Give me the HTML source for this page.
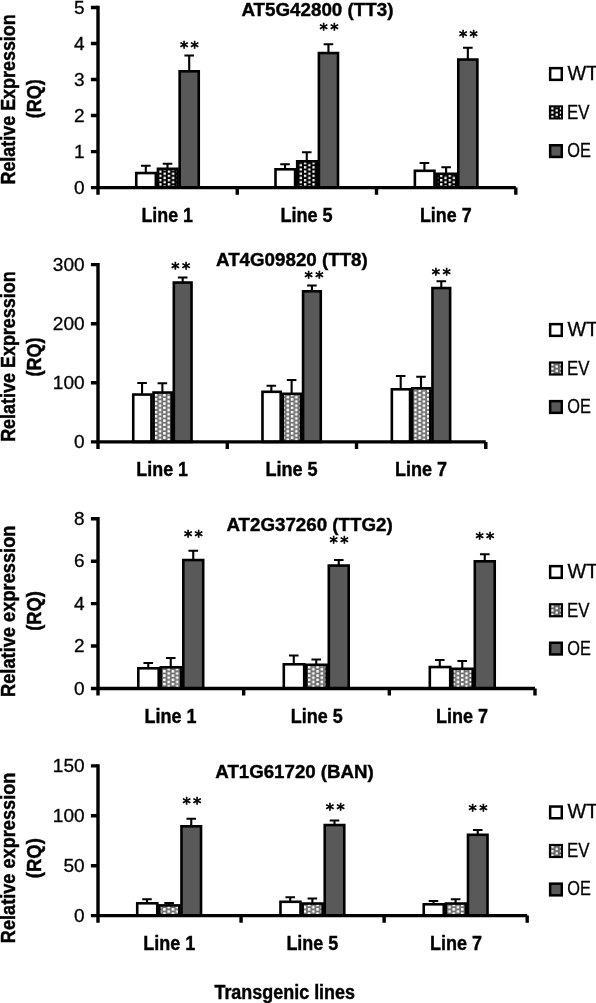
<!DOCTYPE html>
<html lang="en"><head><meta charset="utf-8"><title>Relative expression in transgenic lines</title>
<style>
html,body{margin:0;padding:0;background:#fff}
svg{display:block;font-family:"Liberation Sans",sans-serif}
text{fill:#000}
</style></head><body>
<svg width="596" height="1003" viewBox="0 0 596 1003">
<defs>

<pattern id="pA" x="159.25" y="170.45" width="8.51" height="4.25" patternUnits="userSpaceOnUse"><rect width="8.51" height="4.25" fill="#000"/><rect x="0" y="0" width="2.3" height="2.3" fill="#fff"/><rect x="4.25" y="2.13" width="2.3" height="2.3" fill="#fff"/><rect x="4.25" y="-2.13" width="2.3" height="2.3" fill="#fff"/></pattern>
<pattern id="pB" x="154.65" y="393.85" width="8.51" height="4.25" patternUnits="userSpaceOnUse"><rect width="8.51" height="4.25" fill="#707070"/><rect x="0" y="0" width="2.5" height="2.5" fill="#fff"/><rect x="4.25" y="2.13" width="2.5" height="2.5" fill="#fff"/><rect x="4.25" y="-2.13" width="2.5" height="2.5" fill="#fff"/></pattern>
<pattern id="pALc1" x="551.3" y="107.2" width="8.51" height="4.25" patternUnits="userSpaceOnUse"><rect width="8.51" height="4.25" fill="#000"/><rect x="0" y="0" width="2.3" height="2.3" fill="#fff"/><rect x="4.25" y="2.13" width="2.3" height="2.3" fill="#fff"/><rect x="4.25" y="-2.13" width="2.3" height="2.3" fill="#fff"/></pattern>
<pattern id="pBLc2" x="551.3" y="363.3" width="8.51" height="4.25" patternUnits="userSpaceOnUse"><rect width="8.51" height="4.25" fill="#666"/><rect x="0" y="0" width="2.3" height="2.3" fill="#fff"/><rect x="4.25" y="2.13" width="2.3" height="2.3" fill="#fff"/><rect x="4.25" y="-2.13" width="2.3" height="2.3" fill="#fff"/></pattern>
<pattern id="pBLc3" x="551.3" y="605.05" width="8.51" height="4.25" patternUnits="userSpaceOnUse"><rect width="8.51" height="4.25" fill="#666"/><rect x="0" y="0" width="2.3" height="2.3" fill="#fff"/><rect x="4.25" y="2.13" width="2.3" height="2.3" fill="#fff"/><rect x="4.25" y="-2.13" width="2.3" height="2.3" fill="#fff"/></pattern>
<pattern id="pBLc4" x="551.3" y="845.8" width="8.51" height="4.25" patternUnits="userSpaceOnUse"><rect width="8.51" height="4.25" fill="#666"/><rect x="0" y="0" width="2.3" height="2.3" fill="#fff"/><rect x="4.25" y="2.13" width="2.3" height="2.3" fill="#fff"/><rect x="4.25" y="-2.13" width="2.3" height="2.3" fill="#fff"/></pattern>
</defs>
<rect width="596" height="1003" fill="#fff"/>
<g id="c1">
<path d="M145.8 173.05V165.75M141 165.75H150.6" stroke="#000" stroke-width="2.1" fill="none"/>
<rect x="136.25" y="173.05" width="19.6" height="14.55" fill="#fff" stroke="#000" stroke-width="2.6"/>
<path d="M167.5 168.8V163.75M162.7 163.75H172.3" stroke="#000" stroke-width="2.1" fill="none"/>
<rect x="157.95" y="168.8" width="19.6" height="18.8" fill="url(#pA)" stroke="#000" stroke-width="2.6"/>
<path d="M189.2 71.3V55.5M184.4 55.5H194" stroke="#000" stroke-width="2.1" fill="none"/>
<rect x="179.65" y="71.3" width="19.1" height="116.3" fill="#595959" stroke="#000" stroke-width="2.6"/>
<text x="190.6" y="53.45" font-size="16.5" font-family="DejaVu Sans, Liberation Sans, sans-serif" text-anchor="middle" letter-spacing="2.4" stroke="#000" stroke-width="0.7">**</text>
<text x="167.2" y="221.8" font-size="19.8" font-weight="bold" text-anchor="middle" textLength="51.6" lengthAdjust="spacingAndGlyphs" stroke="#000" stroke-width="0.4">Line 1</text>
<path d="M285.05 169.3V164.25M280.25 164.25H289.85" stroke="#000" stroke-width="2.1" fill="none"/>
<rect x="275.5" y="169.3" width="19.6" height="18.3" fill="#fff" stroke="#000" stroke-width="2.6"/>
<path d="M306.75 161.3V152.25M301.95 152.25H311.55" stroke="#000" stroke-width="2.1" fill="none"/>
<rect x="297.2" y="161.3" width="19.6" height="26.3" fill="url(#pA)" stroke="#000" stroke-width="2.6"/>
<path d="M328.45 53.05V44.25M323.65 44.25H333.25" stroke="#000" stroke-width="2.1" fill="none"/>
<rect x="318.9" y="53.05" width="19.1" height="134.55" fill="#595959" stroke="#000" stroke-width="2.6"/>
<text x="330.2" y="34.95" font-size="16.5" font-family="DejaVu Sans, Liberation Sans, sans-serif" text-anchor="middle" letter-spacing="2.4" stroke="#000" stroke-width="0.7">**</text>
<text x="306.55" y="221.8" font-size="19.8" font-weight="bold" text-anchor="middle" textLength="52.3" lengthAdjust="spacingAndGlyphs" stroke="#000" stroke-width="0.4">Line 5</text>
<path d="M424.42 170.8V163M419.62 163H429.22" stroke="#000" stroke-width="2.1" fill="none"/>
<rect x="414.88" y="170.8" width="19.6" height="16.8" fill="#fff" stroke="#000" stroke-width="2.6"/>
<path d="M446.12 173.8V167.25M441.32 167.25H450.93" stroke="#000" stroke-width="2.1" fill="none"/>
<rect x="436.57" y="173.8" width="19.6" height="13.8" fill="url(#pA)" stroke="#000" stroke-width="2.6"/>
<path d="M467.83 59.55V47.75M463.03 47.75H472.63" stroke="#000" stroke-width="2.1" fill="none"/>
<rect x="458.28" y="59.55" width="19.1" height="128.05" fill="#595959" stroke="#000" stroke-width="2.6"/>
<text x="469.6" y="41.7" font-size="16.5" font-family="DejaVu Sans, Liberation Sans, sans-serif" text-anchor="middle" letter-spacing="2.4" stroke="#000" stroke-width="0.7">**</text>
<text x="445.75" y="221.8" font-size="19.8" font-weight="bold" text-anchor="middle" textLength="51.7" lengthAdjust="spacingAndGlyphs" stroke="#000" stroke-width="0.4">Line 7</text>
<path d="M98 5.8V194.7M90.9 187.6H515.8" stroke="#000" stroke-width="3.4" fill="none"/>
<path d="M90.9 7.5H98M90.9 43.52H98M90.9 79.54H98M90.9 115.56H98M90.9 151.58H98M237.27 187.6V194.7M376.53 187.6V194.7M515.8 187.6V194.7" stroke="#000" stroke-width="3.4" fill="none"/>
<text x="84.6" y="13.6" font-size="19" text-anchor="end" textLength="10.6" lengthAdjust="spacingAndGlyphs" stroke="#000" stroke-width="0.3">5</text>
<text x="84.6" y="49.62" font-size="19" text-anchor="end" textLength="10.6" lengthAdjust="spacingAndGlyphs" stroke="#000" stroke-width="0.3">4</text>
<text x="84.6" y="85.64" font-size="19" text-anchor="end" textLength="10.6" lengthAdjust="spacingAndGlyphs" stroke="#000" stroke-width="0.3">3</text>
<text x="84.6" y="121.66" font-size="19" text-anchor="end" textLength="10.6" lengthAdjust="spacingAndGlyphs" stroke="#000" stroke-width="0.3">2</text>
<text x="84.6" y="157.68" font-size="19" text-anchor="end" textLength="10.6" lengthAdjust="spacingAndGlyphs" stroke="#000" stroke-width="0.3">1</text>
<text x="84.6" y="193.7" font-size="19" text-anchor="end" textLength="10.6" lengthAdjust="spacingAndGlyphs" stroke="#000" stroke-width="0.3">0</text>
<text x="317.4" y="16.2" font-size="18.2" font-weight="bold" text-anchor="middle" textLength="152" lengthAdjust="spacingAndGlyphs" stroke="#000" stroke-width="0.4">AT5G42800 (TT3)</text>
<text transform="translate(14.6 99.4) rotate(-90)" font-size="20.0" font-weight="bold" text-anchor="middle" textLength="170.25" lengthAdjust="spacingAndGlyphs" stroke="#000" stroke-width="0.45">Relative Expression</text>
<text transform="translate(40.5 98.75) rotate(-90)" font-size="20.0" font-weight="bold" text-anchor="middle" textLength="39" lengthAdjust="spacingAndGlyphs" stroke="#000" stroke-width="0.45">(RQ)</text>
<rect x="550.15" y="68.15" width="11.6" height="11.7" fill="#fff" stroke="#000" stroke-width="2.5"/>
<text x="567.4" y="80.4" font-size="19.3" textLength="30.8" lengthAdjust="spacingAndGlyphs" stroke="#000" stroke-width="0.3">WT</text>
<rect x="549.85" y="106.25" width="12.2" height="12.3" fill="url(#pALc1)" stroke="#000" stroke-width="1.9"/>
<text x="566.9" y="118.65" font-size="19.3" textLength="22.5" lengthAdjust="spacingAndGlyphs" stroke="#000" stroke-width="0.3">EV</text>
<rect x="550.15" y="145.25" width="11.6" height="11.7" fill="#595959" stroke="#000" stroke-width="2.5"/>
<text x="567.2" y="157.4" font-size="19.3" textLength="23.6" lengthAdjust="spacingAndGlyphs" stroke="#000" stroke-width="0.3">OE</text>
</g>
<g id="c2">
<path d="M142.07 394.55V383M137.27 383H146.88" stroke="#000" stroke-width="2.1" fill="none"/>
<rect x="133.23" y="394.55" width="18.2" height="47.35" fill="#fff" stroke="#000" stroke-width="2.6"/>
<path d="M162.38 392.55V383.25M157.57 383.25H167.18" stroke="#000" stroke-width="2.1" fill="none"/>
<rect x="153.53" y="392.55" width="18.2" height="49.35" fill="url(#pB)" stroke="#000" stroke-width="2.6"/>
<path d="M182.68 282.55V277.5M177.88 277.5H187.48" stroke="#000" stroke-width="2.1" fill="none"/>
<rect x="173.83" y="282.55" width="17.7" height="159.35" fill="#595959" stroke="#000" stroke-width="2.6"/>
<text x="181.9" y="274.1" font-size="16.5" font-family="DejaVu Sans, Liberation Sans, sans-serif" text-anchor="middle" letter-spacing="2.4" stroke="#000" stroke-width="0.7">**</text>
<text x="162.17" y="475.65" font-size="19.8" font-weight="bold" text-anchor="middle" textLength="51.65" lengthAdjust="spacingAndGlyphs" stroke="#000" stroke-width="0.4">Line 1</text>
<path d="M271.33 391.8V385.75M266.53 385.75H276.13" stroke="#000" stroke-width="2.1" fill="none"/>
<rect x="262.48" y="391.8" width="18.2" height="50.1" fill="#fff" stroke="#000" stroke-width="2.6"/>
<path d="M291.62 393.8V380M286.82 380H296.43" stroke="#000" stroke-width="2.1" fill="none"/>
<rect x="282.78" y="393.8" width="18.2" height="48.1" fill="url(#pB)" stroke="#000" stroke-width="2.6"/>
<path d="M311.92 291.3V285.5M307.12 285.5H316.72" stroke="#000" stroke-width="2.1" fill="none"/>
<rect x="303.07" y="291.3" width="17.7" height="150.6" fill="#595959" stroke="#000" stroke-width="2.6"/>
<text x="315.2" y="283.45" font-size="16.5" font-family="DejaVu Sans, Liberation Sans, sans-serif" text-anchor="middle" letter-spacing="2.4" stroke="#000" stroke-width="0.7">**</text>
<text x="291.55" y="475.65" font-size="19.8" font-weight="bold" text-anchor="middle" textLength="52.3" lengthAdjust="spacingAndGlyphs" stroke="#000" stroke-width="0.4">Line 5</text>
<path d="M400.7 389.3V376M395.9 376H405.5" stroke="#000" stroke-width="2.1" fill="none"/>
<rect x="391.85" y="389.3" width="18.2" height="52.6" fill="#fff" stroke="#000" stroke-width="2.6"/>
<path d="M421 388.3V376.75M416.2 376.75H425.8" stroke="#000" stroke-width="2.1" fill="none"/>
<rect x="412.15" y="388.3" width="18.2" height="53.6" fill="url(#pB)" stroke="#000" stroke-width="2.6"/>
<path d="M441.3 288.05V281.25M436.5 281.25H446.1" stroke="#000" stroke-width="2.1" fill="none"/>
<rect x="432.45" y="288.05" width="17.7" height="153.85" fill="#595959" stroke="#000" stroke-width="2.6"/>
<text x="442.45" y="279.95" font-size="16.5" font-family="DejaVu Sans, Liberation Sans, sans-serif" text-anchor="middle" letter-spacing="2.4" stroke="#000" stroke-width="0.7">**</text>
<text x="420.98" y="475.65" font-size="19.8" font-weight="bold" text-anchor="middle" textLength="52.16" lengthAdjust="spacingAndGlyphs" stroke="#000" stroke-width="0.4">Line 7</text>
<path d="M98 262.9V448.9M90.9 441.9H485.8" stroke="#000" stroke-width="3.4" fill="none"/>
<path d="M90.9 264.6H98M90.9 323.7H98M90.9 382.8H98M227.27 441.9V448.9M356.53 441.9V448.9M485.8 441.9V448.9" stroke="#000" stroke-width="3.4" fill="none"/>
<text x="84.6" y="270.7" font-size="19" text-anchor="end" textLength="31.8" lengthAdjust="spacingAndGlyphs" stroke="#000" stroke-width="0.3">300</text>
<text x="84.6" y="329.8" font-size="19" text-anchor="end" textLength="31.8" lengthAdjust="spacingAndGlyphs" stroke="#000" stroke-width="0.3">200</text>
<text x="84.6" y="388.9" font-size="19" text-anchor="end" textLength="31.8" lengthAdjust="spacingAndGlyphs" stroke="#000" stroke-width="0.3">100</text>
<text x="84.6" y="448" font-size="19" text-anchor="end" textLength="10.6" lengthAdjust="spacingAndGlyphs" stroke="#000" stroke-width="0.3">0</text>
<text x="291.9" y="265.6" font-size="18.2" font-weight="bold" text-anchor="middle" textLength="151.8" lengthAdjust="spacingAndGlyphs" stroke="#000" stroke-width="0.4">AT4G09820 (TT8)</text>
<text transform="translate(14.6 356.6) rotate(-90)" font-size="20.0" font-weight="bold" text-anchor="middle" textLength="170.5" lengthAdjust="spacingAndGlyphs" stroke="#000" stroke-width="0.45">Relative Expression</text>
<text transform="translate(40.5 356.9) rotate(-90)" font-size="20.0" font-weight="bold" text-anchor="middle" textLength="39" lengthAdjust="spacingAndGlyphs" stroke="#000" stroke-width="0.45">(RQ)</text>
<rect x="550.15" y="324.15" width="11.6" height="11.7" fill="#fff" stroke="#000" stroke-width="2.5"/>
<text x="567.4" y="336.4" font-size="19.3" textLength="30.8" lengthAdjust="spacingAndGlyphs" stroke="#000" stroke-width="0.3">WT</text>
<rect x="550" y="362.5" width="11.9" height="12" fill="url(#pBLc2)" stroke="#000" stroke-width="2.2"/>
<text x="566.9" y="374.65" font-size="19.3" textLength="22.5" lengthAdjust="spacingAndGlyphs" stroke="#000" stroke-width="0.3">EV</text>
<rect x="550.15" y="401.15" width="11.6" height="11.7" fill="#595959" stroke="#000" stroke-width="2.5"/>
<text x="567.2" y="413.4" font-size="19.3" textLength="23.6" lengthAdjust="spacingAndGlyphs" stroke="#000" stroke-width="0.3">OE</text>
</g>
<g id="c3">
<path d="M148.25 668.3V663M143.45 663H153.05" stroke="#000" stroke-width="2.1" fill="none"/>
<rect x="138.3" y="668.3" width="20.4" height="20.2" fill="#fff" stroke="#000" stroke-width="2.6"/>
<path d="M170.75 667.3V658M165.95 658H175.55" stroke="#000" stroke-width="2.1" fill="none"/>
<rect x="160.8" y="667.3" width="20.4" height="21.2" fill="url(#pB)" stroke="#000" stroke-width="2.6"/>
<path d="M193.25 560.05V550.75M188.45 550.75H198.05" stroke="#000" stroke-width="2.1" fill="none"/>
<rect x="183.3" y="560.05" width="19.9" height="128.45" fill="#595959" stroke="#000" stroke-width="2.6"/>
<text x="194.6" y="542.2" font-size="16.5" font-family="DejaVu Sans, Liberation Sans, sans-serif" text-anchor="middle" letter-spacing="2.4" stroke="#000" stroke-width="0.7">**</text>
<text x="170.45" y="722.95" font-size="19.8" font-weight="bold" text-anchor="middle" textLength="51.9" lengthAdjust="spacingAndGlyphs" stroke="#000" stroke-width="0.4">Line 1</text>
<path d="M293.75 664.3V655.5M288.95 655.5H298.55" stroke="#000" stroke-width="2.1" fill="none"/>
<rect x="283.8" y="664.3" width="20.4" height="24.2" fill="#fff" stroke="#000" stroke-width="2.6"/>
<path d="M316.25 664.8V659.5M311.45 659.5H321.05" stroke="#000" stroke-width="2.1" fill="none"/>
<rect x="306.3" y="664.8" width="20.4" height="23.7" fill="url(#pB)" stroke="#000" stroke-width="2.6"/>
<path d="M338.75 565.55V560M333.95 560H343.55" stroke="#000" stroke-width="2.1" fill="none"/>
<rect x="328.8" y="565.55" width="19.9" height="122.95" fill="#595959" stroke="#000" stroke-width="2.6"/>
<text x="340.2" y="547.95" font-size="16.5" font-family="DejaVu Sans, Liberation Sans, sans-serif" text-anchor="middle" letter-spacing="2.4" stroke="#000" stroke-width="0.7">**</text>
<text x="316.73" y="722.95" font-size="19.8" font-weight="bold" text-anchor="middle" textLength="51.95" lengthAdjust="spacingAndGlyphs" stroke="#000" stroke-width="0.4">Line 5</text>
<path d="M439.77 667.05V660M434.97 660H444.57" stroke="#000" stroke-width="2.1" fill="none"/>
<rect x="429.82" y="667.05" width="20.4" height="21.45" fill="#fff" stroke="#000" stroke-width="2.6"/>
<path d="M462.27 668.8V661M457.47 661H467.07" stroke="#000" stroke-width="2.1" fill="none"/>
<rect x="452.32" y="668.8" width="20.4" height="19.7" fill="url(#pB)" stroke="#000" stroke-width="2.6"/>
<path d="M484.77 561.3V554.25M479.97 554.25H489.57" stroke="#000" stroke-width="2.1" fill="none"/>
<rect x="474.82" y="561.3" width="19.9" height="127.2" fill="#595959" stroke="#000" stroke-width="2.6"/>
<text x="486.1" y="543.7" font-size="16.5" font-family="DejaVu Sans, Liberation Sans, sans-serif" text-anchor="middle" letter-spacing="2.4" stroke="#000" stroke-width="0.7">**</text>
<text x="462.05" y="722.95" font-size="19.8" font-weight="bold" text-anchor="middle" textLength="52.1" lengthAdjust="spacingAndGlyphs" stroke="#000" stroke-width="0.4">Line 7</text>
<path d="M98 517.1V695.6M90.9 688.5H535" stroke="#000" stroke-width="3.4" fill="none"/>
<path d="M90.9 518.8H98M90.9 561.22H98M90.9 603.65H98M90.9 646.07H98M243.67 688.5V695.6M389.33 688.5V695.6M535 688.5V695.6" stroke="#000" stroke-width="3.4" fill="none"/>
<text x="84.6" y="524.9" font-size="19" text-anchor="end" textLength="10.6" lengthAdjust="spacingAndGlyphs" stroke="#000" stroke-width="0.3">8</text>
<text x="84.6" y="567.32" font-size="19" text-anchor="end" textLength="10.6" lengthAdjust="spacingAndGlyphs" stroke="#000" stroke-width="0.3">6</text>
<text x="84.6" y="609.75" font-size="19" text-anchor="end" textLength="10.6" lengthAdjust="spacingAndGlyphs" stroke="#000" stroke-width="0.3">4</text>
<text x="84.6" y="652.17" font-size="19" text-anchor="end" textLength="10.6" lengthAdjust="spacingAndGlyphs" stroke="#000" stroke-width="0.3">2</text>
<text x="84.6" y="694.6" font-size="19" text-anchor="end" textLength="10.6" lengthAdjust="spacingAndGlyphs" stroke="#000" stroke-width="0.3">0</text>
<text x="309.55" y="531.3" font-size="18.2" font-weight="bold" text-anchor="middle" textLength="166.3" lengthAdjust="spacingAndGlyphs" stroke="#000" stroke-width="0.4">AT2G37260 (TTG2)</text>
<text transform="translate(14.6 611.25) rotate(-90)" font-size="20.0" font-weight="bold" text-anchor="middle" textLength="171.5" lengthAdjust="spacingAndGlyphs" stroke="#000" stroke-width="0.45">Relative expression</text>
<text transform="translate(40.5 611) rotate(-90)" font-size="20.0" font-weight="bold" text-anchor="middle" textLength="39.5" lengthAdjust="spacingAndGlyphs" stroke="#000" stroke-width="0.45">(RQ)</text>
<rect x="550.15" y="566.15" width="11.6" height="11.7" fill="#fff" stroke="#000" stroke-width="2.5"/>
<text x="567.4" y="578.15" font-size="19.3" textLength="30.8" lengthAdjust="spacingAndGlyphs" stroke="#000" stroke-width="0.3">WT</text>
<rect x="550" y="604.25" width="11.9" height="12" fill="url(#pBLc3)" stroke="#000" stroke-width="2.2"/>
<text x="566.9" y="616.65" font-size="19.3" textLength="22.5" lengthAdjust="spacingAndGlyphs" stroke="#000" stroke-width="0.3">EV</text>
<rect x="550.15" y="642.75" width="11.6" height="11.7" fill="#595959" stroke="#000" stroke-width="2.5"/>
<text x="567.2" y="654.9" font-size="19.3" textLength="23.6" lengthAdjust="spacingAndGlyphs" stroke="#000" stroke-width="0.3">OE</text>
</g>
<g id="c4">
<path d="M146.99 903.3V899.25M142.19 899.25H151.79" stroke="#000" stroke-width="2.1" fill="none"/>
<rect x="137.23" y="903.3" width="20.03" height="12.3" fill="#fff" stroke="#000" stroke-width="2.6"/>
<path d="M169.12 905.4V903M164.32 903H173.93" stroke="#000" stroke-width="2.1" fill="none"/>
<rect x="159.36" y="905.4" width="20.03" height="10.2" fill="url(#pB)" stroke="#000" stroke-width="2.6"/>
<path d="M191.26 826.3V818.75M186.46 818.75H196.06" stroke="#000" stroke-width="2.1" fill="none"/>
<rect x="181.49" y="826.3" width="19.53" height="89.3" fill="#595959" stroke="#000" stroke-width="2.6"/>
<text x="193.1" y="808.7" font-size="16.5" font-family="DejaVu Sans, Liberation Sans, sans-serif" text-anchor="middle" letter-spacing="2.4" stroke="#000" stroke-width="0.7">**</text>
<text x="169.2" y="949.6" font-size="19.8" font-weight="bold" text-anchor="middle" textLength="52" lengthAdjust="spacingAndGlyphs" stroke="#000" stroke-width="0.4">Line 1</text>
<path d="M290.24 901.8V897.25M285.44 897.25H295.04" stroke="#000" stroke-width="2.1" fill="none"/>
<rect x="280.48" y="901.8" width="20.03" height="13.8" fill="#fff" stroke="#000" stroke-width="2.6"/>
<path d="M312.38 903.55V898.5M307.57 898.5H317.18" stroke="#000" stroke-width="2.1" fill="none"/>
<rect x="302.61" y="903.55" width="20.03" height="12.05" fill="url(#pB)" stroke="#000" stroke-width="2.6"/>
<path d="M334.51 825.05V820.5M329.71 820.5H339.31" stroke="#000" stroke-width="2.1" fill="none"/>
<rect x="324.74" y="825.05" width="19.53" height="90.55" fill="#595959" stroke="#000" stroke-width="2.6"/>
<text x="336.45" y="814.7" font-size="16.5" font-family="DejaVu Sans, Liberation Sans, sans-serif" text-anchor="middle" letter-spacing="2.4" stroke="#000" stroke-width="0.7">**</text>
<text x="312.35" y="949.6" font-size="19.8" font-weight="bold" text-anchor="middle" textLength="51.9" lengthAdjust="spacingAndGlyphs" stroke="#000" stroke-width="0.4">Line 5</text>
<path d="M433.49 904.3V901M428.69 901H438.29" stroke="#000" stroke-width="2.1" fill="none"/>
<rect x="423.73" y="904.3" width="20.03" height="11.3" fill="#fff" stroke="#000" stroke-width="2.6"/>
<path d="M455.62 903.55V899.25M450.82 899.25H460.43" stroke="#000" stroke-width="2.1" fill="none"/>
<rect x="445.86" y="903.55" width="20.03" height="12.05" fill="url(#pB)" stroke="#000" stroke-width="2.6"/>
<path d="M477.76 834.8V830M472.96 830H482.56" stroke="#000" stroke-width="2.1" fill="none"/>
<rect x="467.99" y="834.8" width="19.53" height="80.8" fill="#595959" stroke="#000" stroke-width="2.6"/>
<text x="479.2" y="816.45" font-size="16.5" font-family="DejaVu Sans, Liberation Sans, sans-serif" text-anchor="middle" letter-spacing="2.4" stroke="#000" stroke-width="0.7">**</text>
<text x="456.05" y="949.6" font-size="19.8" font-weight="bold" text-anchor="middle" textLength="52.1" lengthAdjust="spacingAndGlyphs" stroke="#000" stroke-width="0.4">Line 7</text>
<path d="M98 764.2V922.7M90.9 915.6H527.2" stroke="#000" stroke-width="3.4" fill="none"/>
<path d="M90.9 765.9H98M90.9 815.8H98M90.9 865.7H98M241.07 915.6V922.7M384.13 915.6V922.7M527.2 915.6V922.7" stroke="#000" stroke-width="3.4" fill="none"/>
<text x="84.6" y="772" font-size="19" text-anchor="end" textLength="31.8" lengthAdjust="spacingAndGlyphs" stroke="#000" stroke-width="0.3">150</text>
<text x="84.6" y="821.9" font-size="19" text-anchor="end" textLength="31.8" lengthAdjust="spacingAndGlyphs" stroke="#000" stroke-width="0.3">100</text>
<text x="84.6" y="871.8" font-size="19" text-anchor="end" textLength="21.2" lengthAdjust="spacingAndGlyphs" stroke="#000" stroke-width="0.3">50</text>
<text x="84.6" y="921.7" font-size="19" text-anchor="end" textLength="10.6" lengthAdjust="spacingAndGlyphs" stroke="#000" stroke-width="0.3">0</text>
<text x="294.55" y="777.9" font-size="18.2" font-weight="bold" text-anchor="middle" textLength="158.5" lengthAdjust="spacingAndGlyphs" stroke="#000" stroke-width="0.4">AT1G61720 (BAN)</text>
<text transform="translate(14.6 857.9) rotate(-90)" font-size="20.0" font-weight="bold" text-anchor="middle" textLength="170.5" lengthAdjust="spacingAndGlyphs" stroke="#000" stroke-width="0.45">Relative expression</text>
<text transform="translate(40.5 858.2) rotate(-90)" font-size="20.0" font-weight="bold" text-anchor="middle" textLength="40" lengthAdjust="spacingAndGlyphs" stroke="#000" stroke-width="0.45">(RQ)</text>
<rect x="550.15" y="806.55" width="11.6" height="11.7" fill="#fff" stroke="#000" stroke-width="2.5"/>
<text x="567.4" y="818.4" font-size="19.3" textLength="30.8" lengthAdjust="spacingAndGlyphs" stroke="#000" stroke-width="0.3">WT</text>
<rect x="550" y="845" width="11.9" height="12" fill="url(#pBLc4)" stroke="#000" stroke-width="2.2"/>
<text x="566.9" y="857.15" font-size="19.3" textLength="22.5" lengthAdjust="spacingAndGlyphs" stroke="#000" stroke-width="0.3">EV</text>
<rect x="550.15" y="883.65" width="11.6" height="11.7" fill="#595959" stroke="#000" stroke-width="2.5"/>
<text x="567.2" y="895.15" font-size="19.3" textLength="23.6" lengthAdjust="spacingAndGlyphs" stroke="#000" stroke-width="0.3">OE</text>
</g>
<text x="284.73" y="999.2" font-size="19.4" font-weight="bold" text-anchor="middle" textLength="140.6" lengthAdjust="spacingAndGlyphs" stroke="#000" stroke-width="0.4">Transgenic lines</text>
</svg>
</body></html>
